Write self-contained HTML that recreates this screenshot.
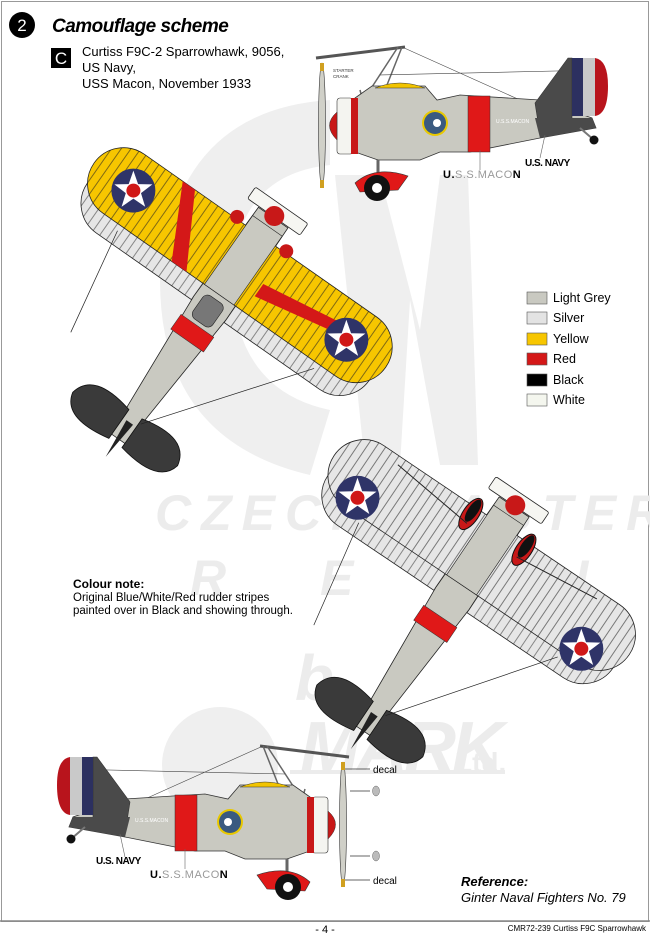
<!DOCTYPE html>
<html><head><meta charset="utf-8"><style>
html,body{margin:0;padding:0;background:#fff;}
body{width:650px;height:935px;overflow:hidden;position:relative;font-family:"Liberation Sans",sans-serif;}
svg{position:absolute;left:0;top:0;}
</style></head><body>
<svg width="650" height="935" viewBox="0 0 650 935" xmlns="http://www.w3.org/2000/svg" font-family="Liberation Sans, sans-serif">
<defs>
<pattern id="hatch" width="8" height="8" patternUnits="userSpaceOnUse"><line x1="4" y1="0" x2="4" y2="8" stroke="#222" stroke-width="0.7"/></pattern>
<g id="roundel"><circle r="22" fill="#2f3468"/><polygon points="0,-20 4.7,-6.5 19,-6.2 7.6,2.5 11.8,16.2 0,8 -11.8,16.2 -7.6,2.5 -19,-6.2 -4.7,-6.5" fill="#fff"/><circle r="7" fill="#d01818"/></g>
<g id="side">
 <line x1="316" y1="58" x2="405" y2="47" stroke="#555" stroke-width="3"/>
 <line x1="370" y1="90" x2="398" y2="47" stroke="#666" stroke-width="1.5"/>
 <line x1="385" y1="90" x2="402" y2="47" stroke="#666" stroke-width="1.5"/>
 <line x1="378" y1="158" x2="360" y2="90" stroke="#666" stroke-width="1.5"/>
 <line x1="402" y1="47" x2="520" y2="100" stroke="#444" stroke-width="0.6"/>
 <line x1="380" y1="75" x2="600" y2="70" stroke="#444" stroke-width="0.6"/>
 <path d="M355,98 L372,86 L425,86 L437,100 L460,95 L540,100 L592,118 L596,128 L540,138 L470,152 L440,152 L420,160 L378,160 L355,152 Z" fill="#c9c9c1" stroke="#333" stroke-width="0.8"/>
 <path d="M375,88 Q400,78 425,88 Z" fill="#f2c400" stroke="#333" stroke-width="0.5"/>
 <rect x="468" y="96" width="22" height="56" fill="#e01818" stroke="#333" stroke-width="0.5"/>
 <path d="M535,103 L568,58 L572,58 L572,120 L538,122 Z" fill="#4a4a4a" stroke="#333" stroke-width="0.6"/>
 <path d="M535,118 L592,118 L596,128 L540,138 Z" fill="#4a4a4a"/>
 <rect x="572" y="58" width="11" height="58" fill="#2c3060"/>
 <rect x="583" y="58" width="12" height="58" fill="#c9c9c9"/>
 <path d="M595,58 Q608,60 608,86 Q608,114 595,116 Z" fill="#b8141c"/>
 <circle cx="435" cy="123" r="13" fill="#e8c800"/><circle cx="435" cy="123" r="11" fill="#3a5a80"/><circle cx="437" cy="123" r="4" fill="#fff"/>
 <rect x="337" y="98" width="16" height="56" rx="3" fill="#f4f4f0" stroke="#333" stroke-width="0.6"/>
 <rect x="351" y="98" width="7" height="56" fill="#c81818"/>
 <path d="M337,112 Q322,125 337,140 Z" fill="#c81818" stroke="#333" stroke-width="0.5"/>
 <ellipse cx="322" cy="125" rx="3.5" ry="62" fill="#d0d0c8" stroke="#333" stroke-width="0.6"/>
 <rect x="320" y="63" width="4" height="8" fill="#d0a020"/><rect x="320" y="180" width="4" height="8" fill="#d0a020"/>
 <line x1="378" y1="160" x2="378" y2="185" stroke="#666" stroke-width="3"/>
 <path d="M355,183 Q375,165 408,176 L398,190 L360,192 Z" fill="#e01818" stroke="#333" stroke-width="0.6"/>
 <circle cx="377" cy="188" r="13" fill="#111"/><circle cx="377" cy="188" r="5" fill="#fff"/>
 <line x1="580" y1="128" x2="594" y2="140" stroke="#777" stroke-width="2"/>
 <circle cx="594" cy="140" r="4.5" fill="#111"/>
 <line x1="480" y1="150" x2="480" y2="170" stroke="#666" stroke-width="0.6"/>
 <line x1="545" y1="135" x2="540" y2="158" stroke="#666" stroke-width="0.6"/>
</g>
<g id="planel">
 <rect x="-172" y="-28" width="344" height="72" rx="36" fill="#e6e6e6" stroke="#222" stroke-width="0.8"/>
 <rect x="-172" y="-28" width="344" height="72" rx="36" fill="url(#hatch)" opacity="0.7"/>
 <polygon points="-18,-70 18,-70 20,40 9,200 -9,200 -20,40" fill="#c9c9c1" stroke="#222" stroke-width="0.8"/>
 <rect x="-20" y="62" width="40" height="18" fill="#e01818" stroke="#333" stroke-width="0.5"/>
 <path d="M-8,170 Q-58,158 -64,188 Q-58,215 -8,205 Z" fill="#3a3a3a" stroke="#111" stroke-width="0.8"/>
 <path d="M8,170 Q58,158 64,188 Q58,215 8,205 Z" fill="#3a3a3a" stroke="#111" stroke-width="0.8"/>
 <polygon points="-4,180 4,180 0,222" fill="#222"/>
 <line x1="-120" y1="30" x2="-100" y2="140" stroke="#222" stroke-width="0.7"/>
 <line x1="120" y1="30" x2="10" y2="175" stroke="#222" stroke-width="0.7"/>
</g>
</defs>

<rect x="1.5" y="1.5" width="647" height="920" fill="none" stroke="#999" stroke-width="1"/>

<!-- watermark -->
<g fill="#efefef">
 <path d="M330,100 Q175,110 160,280 Q160,440 310,475 L330,410 Q235,390 232,280 Q235,175 330,165 Z"/>
 <path d="M335,175 L365,465 L400,465 L410,300 L440,465 L478,465 L468,175 L440,175 L420,330 L380,175 Z"/>
 <circle cx="220" cy="765" r="58"/>
</g>
<g fill="#ececec" font-style="italic" font-weight="bold">
 <text x="155" y="530" font-size="50" letter-spacing="10">CZECH MASTER</text>
 <text x="190" y="595" font-size="50" letter-spacing="40">R E S I</text>
 <text x="295" y="700" font-size="64">b</text>
 <text x="300" y="772" font-size="72" letter-spacing="-4">MARK</text>
 <text x="455" y="772" font-size="28" font-style="normal">Ltd.</text>
</g>
<rect x="290" y="770" width="215" height="4" fill="#ececec"/>

<!-- header -->
<circle cx="22" cy="25" r="13" fill="#000"/>
<text x="22" y="31" font-size="17" fill="#fff" text-anchor="middle">2</text>
<text x="52" y="32" font-size="19" font-weight="bold" font-style="italic" letter-spacing="-0.5">Camouflage scheme</text>
<rect x="51" y="48" width="20" height="20" fill="#000"/>
<text x="61" y="64" font-size="17" fill="#fff" text-anchor="middle">C</text>
<text x="82" y="56" font-size="13">Curtiss F9C-2 Sparrowhawk, 9056,</text>
<text x="82" y="72" font-size="13">US Navy,</text>
<text x="82" y="88" font-size="13">USS Macon, November 1933</text>

<!-- top side view -->
<use href="#side"/>
<text x="333" y="72" font-size="4.5" fill="#333">STARTER</text>
<text x="333" y="78" font-size="4.5" fill="#333">CRANK</text>
<text x="496" y="123" font-size="5" fill="#fff">U.S.S.MACON</text>
<text x="525" y="166" font-size="10" font-weight="bold" letter-spacing="-0.5">U.S. NAVY</text>
<text x="443" y="178" font-size="11" fill="#999" letter-spacing="0.5"><tspan fill="#000" font-weight="bold">U.</tspan>S.S.MACO<tspan fill="#000" font-weight="bold">N</tspan></text>

<!-- yellow plan view -->
<g transform="translate(233,275) rotate(35)">
 <use href="#planel"/>
 <rect x="-178" y="-48" width="356" height="72" rx="36" fill="#f7c600" stroke="#222" stroke-width="0.8"/>
 <rect x="-178" y="-48" width="356" height="72" rx="36" fill="url(#hatch)" opacity="0.8"/>
 <polygon points="-95,-48 -80,-48 -40,24 -58,24" fill="#d41818"/>
 <polygon points="30,-10 130,-25 135,-15 30,5" fill="#d41818"/>
 <rect x="-18" y="-60" width="36" height="84" fill="#c9c9c1" stroke="#222" stroke-width="0.6"/>
 <rect x="-12" y="30" width="24" height="28" rx="6" fill="#777" stroke="#222" stroke-width="0.6"/>
 <rect x="-32" y="-85" width="64" height="14" rx="2" fill="#f6f6f2" stroke="#222" stroke-width="0.8"/>
 <circle cx="0" cy="-72" r="10" fill="#c81818"/>
 <circle cx="-30" cy="-50" r="7" fill="#c81818"/>
 <circle cx="30" cy="-50" r="7" fill="#c81818"/>
 <use href="#roundel" transform="translate(-130,-12) rotate(-35)"/>
 <use href="#roundel" transform="translate(130,-12) rotate(-35)"/>
</g>

<!-- silver plan view -->
<g transform="translate(475,565) rotate(34)">
 <use href="#planel"/>
 <rect x="-178" y="-48" width="356" height="72" rx="36" fill="#e6e6e6" stroke="#222" stroke-width="0.8"/>
 <rect x="-178" y="-48" width="356" height="72" rx="36" fill="url(#hatch)" opacity="0.8"/>
 <rect x="-18" y="-60" width="36" height="84" fill="#c9c9c1" stroke="#222" stroke-width="0.6"/>
 <rect x="-32" y="-85" width="64" height="14" rx="2" fill="#f6f6f2" stroke="#222" stroke-width="0.8"/>
 <circle cx="0" cy="-72" r="10" fill="#c81818"/>
 <ellipse cx="-32" cy="-40" rx="8" ry="18" fill="#c81818" stroke="#111"/>
 <ellipse cx="32" cy="-40" rx="8" ry="18" fill="#c81818" stroke="#111"/>
 <ellipse cx="-32" cy="-44" rx="5" ry="13" fill="#111"/>
 <ellipse cx="32" cy="-44" rx="5" ry="13" fill="#111"/>
 <line x1="-120" y1="-40" x2="-30" y2="-30" stroke="#222"/>
 <line x1="120" y1="-40" x2="30" y2="-30" stroke="#222"/>
 <use href="#roundel" transform="translate(-135,10) rotate(-34)"/>
 <use href="#roundel" transform="translate(135,10) rotate(-34)"/>
</g>

<!-- legend -->
<g font-size="12.5">
 <rect x="527" y="292" width="20" height="12" fill="#c9c9c1" stroke="#555" stroke-width="0.6"/><text x="553" y="302">Light Grey</text>
 <rect x="527" y="312" width="20" height="12" fill="#e3e3e3" stroke="#555" stroke-width="0.6"/><text x="553" y="322">Silver</text>
 <rect x="527" y="333" width="20" height="12" fill="#f7c600" stroke="#555" stroke-width="0.6"/><text x="553" y="343">Yellow</text>
 <rect x="527" y="353" width="20" height="12" fill="#d41818" stroke="#555" stroke-width="0.6"/><text x="553" y="363">Red</text>
 <rect x="527" y="374" width="20" height="12" fill="#000" stroke="#555" stroke-width="0.6"/><text x="553" y="384">Black</text>
 <rect x="527" y="394" width="20" height="12" fill="#f4f6ee" stroke="#555" stroke-width="0.6"/><text x="553" y="404">White</text>
</g>

<!-- colour note -->
<text x="73" y="588" font-size="12" font-weight="bold">Colour note:</text>
<text x="73" y="601" font-size="11.5">Original Blue/White/Red rudder stripes</text>
<text x="73" y="614" font-size="11.5">painted over in Black and showing through.</text>

<!-- bottom side view (mirrored) -->
<g transform="translate(665,699) scale(-1,1)"><use href="#side"/></g>
<text x="135" y="822" font-size="5" fill="#fff">U.S.S.MACON</text>
<text x="96" y="864" font-size="10" font-weight="bold" letter-spacing="-0.5">U.S. NAVY</text>
<text x="150" y="878" font-size="11" fill="#999" letter-spacing="0.5"><tspan fill="#000" font-weight="bold">U.</tspan>S.S.MACO<tspan fill="#000" font-weight="bold">N</tspan></text>
<line x1="345" y1="769" x2="370" y2="769" stroke="#333" stroke-width="0.8"/>
<text x="373" y="773" font-size="10">decal</text>
<line x1="350" y1="791" x2="370" y2="791" stroke="#333" stroke-width="0.8"/>
<ellipse cx="376" cy="791" rx="3.5" ry="5" fill="#bbb" stroke="#666" stroke-width="0.5"/>
<line x1="350" y1="856" x2="370" y2="856" stroke="#333" stroke-width="0.8"/>
<ellipse cx="376" cy="856" rx="3.5" ry="5" fill="#bbb" stroke="#666" stroke-width="0.5"/>
<line x1="345" y1="880" x2="370" y2="880" stroke="#333" stroke-width="0.8"/>
<text x="373" y="884" font-size="10">decal</text>

<!-- reference -->
<text x="461" y="886" font-size="13" font-weight="bold" font-style="italic">Reference:</text>
<text x="461" y="902" font-size="13" font-style="italic">Ginter Naval Fighters No. 79</text>

<!-- footer -->
<line x1="0" y1="921" x2="650" y2="921" stroke="#888" stroke-width="1.5"/>
<text x="325" y="933" font-size="11" text-anchor="middle">- 4 -</text>
<text x="646" y="931" font-size="8" text-anchor="end">CMR72-239 Curtiss F9C Sparrowhawk</text>
</svg>
</body></html>
